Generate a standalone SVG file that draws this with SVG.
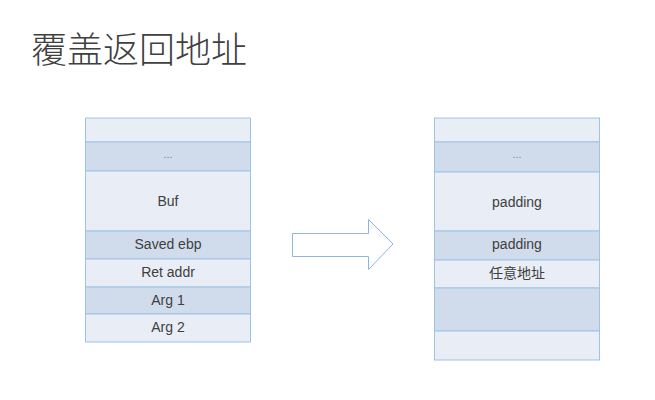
<svg xmlns="http://www.w3.org/2000/svg" width="655" height="400" viewBox="0 0 655 400">
<style>
.l{fill:#e9edf5;stroke:#9dc3e6;stroke-width:1}
.d{fill:#d0dcec;stroke:#9dc3e6;stroke-width:1}
.t{font-family:"Liberation Sans","Noto Sans CJK SC",sans-serif;font-size:14px;fill:#404040;text-anchor:middle;dominant-baseline:central}
.e{font-family:"Liberation Sans",sans-serif;font-size:11px;fill:#808080;text-anchor:middle;dominant-baseline:central}
.h{font-family:"Noto Sans CJK SC",sans-serif;font-size:36px;font-weight:300;fill:#404040}
</style>
<rect width="655" height="400" fill="#ffffff"/>
<text class="h" x="31" y="63">覆盖返回地址</text>
<g id="left-stack">
<g id="l1"><rect class="l" x="85.5" y="118" width="165" height="24"/></g>
<g id="l2"><rect class="d" x="85.5" y="142" width="165" height="29"/><text class="e" x="168" y="154">...</text></g>
<g id="l3"><rect class="l" x="85.5" y="171" width="165" height="60"/><text class="t" x="168" y="201">Buf</text></g>
<g id="l4"><rect class="d" x="85.5" y="231" width="165" height="28"/><text class="t" x="168" y="244">Saved ebp</text></g>
<g id="l5"><rect class="l" x="85.5" y="259" width="165" height="28"/><text class="t" x="168" y="272">Ret addr</text></g>
<g id="l6"><rect class="d" x="85.5" y="287" width="165" height="27"/><text class="t" x="168" y="300">Arg 1</text></g>
<g id="l7"><rect class="l" x="85.5" y="314" width="165" height="28"/><text class="t" x="168" y="327">Arg 2</text></g>
</g>
<g id="connectors">
<polygon points="292.5,233.5 368.5,233.5 368.5,219.5 393,244 368.5,269.5 368.5,256.5 292.5,256.5" fill="#ffffff" stroke="#8fb4e3" stroke-width="1"/>
</g>
<g id="right-stack">
<g id="r1"><rect class="l" x="434.5" y="118" width="165" height="24"/></g>
<g id="r2"><rect class="d" x="434.5" y="142" width="165" height="30"/><text class="e" x="517" y="154">...</text></g>
<g id="r3"><rect class="l" x="434.5" y="172" width="165" height="59"/><text class="t" x="517" y="202">padding</text></g>
<g id="r4"><rect class="d" x="434.5" y="231" width="165" height="29"/><text class="t" x="517" y="244">padding</text></g>
<g id="r5"><rect class="l" x="434.5" y="260" width="165" height="28"/><text class="t" x="517" y="273">任意地址</text></g>
<g id="r6"><rect class="d" x="434.5" y="288" width="165" height="43"/></g>
<g id="r7"><rect class="l" x="434.5" y="331" width="165" height="29"/></g>
</g>
</svg>
